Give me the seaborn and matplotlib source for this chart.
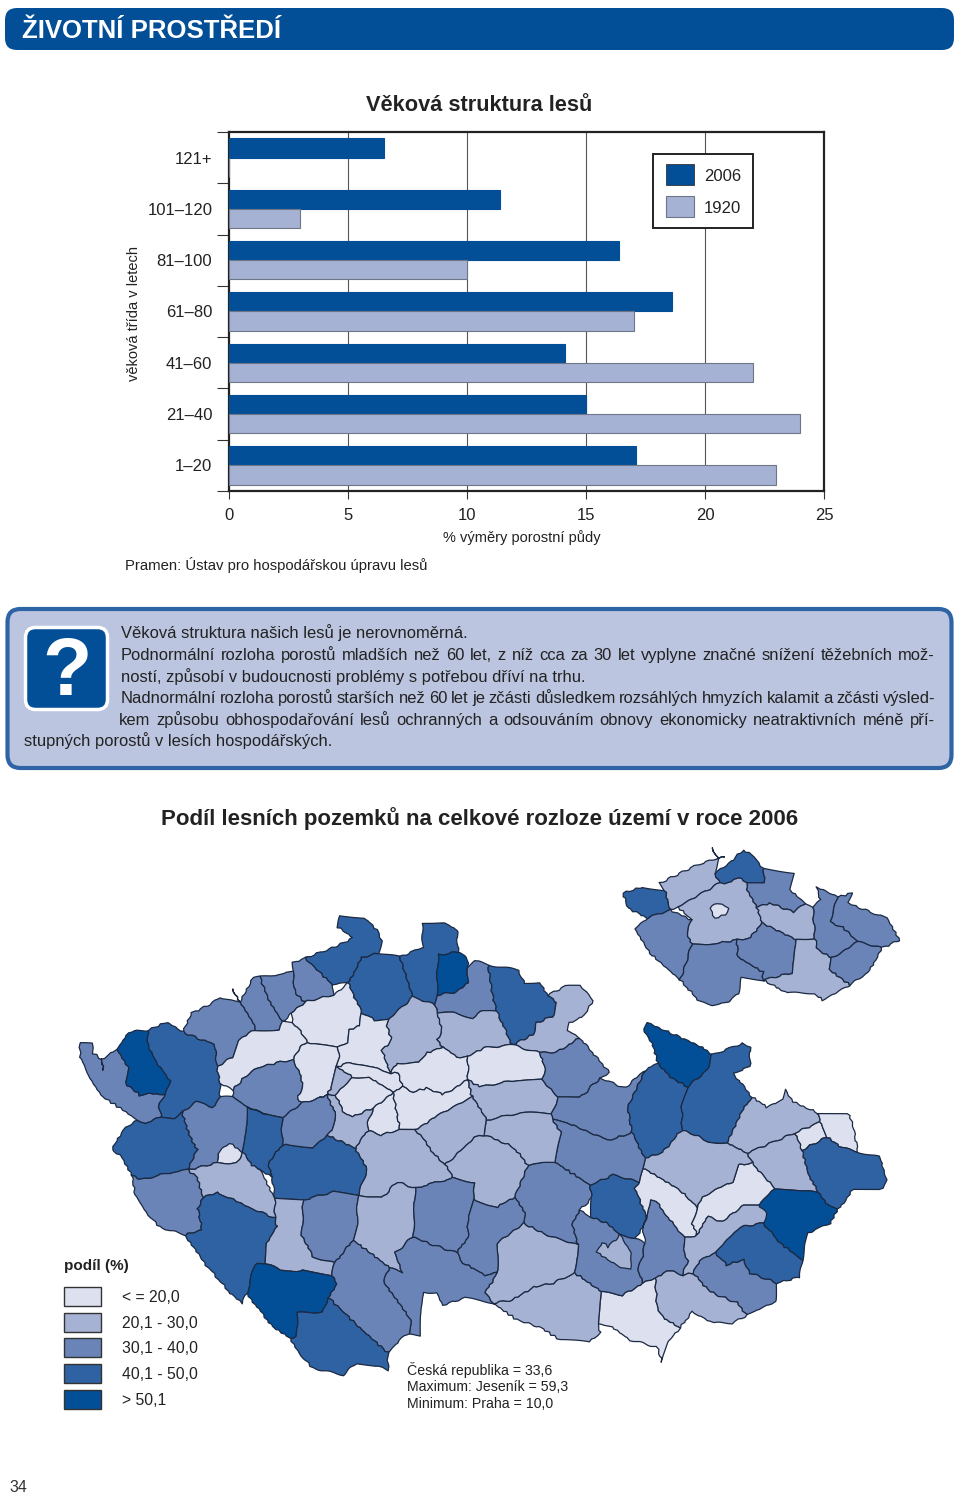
import matplotlib
matplotlib.use('Agg')
import matplotlib.pyplot as plt
import numpy as np
import pandas as pd
import seaborn as sns
from matplotlib.patches import FancyBboxPatch, Polygon, Rectangle

sns.set_style("white")
plt.rcParams['font.family'] = ['Liberation Sans', 'DejaVu Sans']

# ------------------ data: age structure ------------------
age_classes = ["121+", "101–120", "81–100", "61–80", "41–60", "21–40", "1–20"]
share_2006 = [6.5, 11.4, 16.4, 18.6, 14.1, 15.0, 17.1]
share_1920 = [0, 3.0, 10.0, 17.0, 22.0, 24.0, 23.0]
x_ticks = [0, 5, 10, 15, 20, 25]

BLUE = "#034f97"
LIGHT = "#a6b2d4"
class_colors = {1: "#dde1ef", 2: "#a6b2d4", 3: "#6a84b7", 4: "#2f62a3", 5: "#034f97"}
class_labels = ["< = 20,0", "20,1 - 30,0", "30,1 - 40,0", "40,1 - 50,0", "> 50,1"]

# ------------------ data: districts (class, outline in page pixels) ------------------
districts = [
    (3, [(80,1043),(92,1044),(93,1053),(102,1060),(103,1070),(110,1053),(117,1050),(128,1067),(125,1083),(140,1095),(157,1093),(166,1095),(158,1105),(162,1117),(145,1123),(137,1120),(123,1110),(103,1097),(90,1078),(80,1057)]),
    (5, [(116,1048),(128,1032),(148,1030),(148,1047),(158,1065),(170,1080),(166,1095),(140,1095),(125,1083),(128,1067)]),
    (4, [(148,1030),(167,1022),(183,1032),(207,1042),(215,1045),(217,1067),(220,1083),(220,1097),(213,1107),(197,1102),(182,1112),(175,1118),(162,1117),(158,1105),(166,1095),(170,1080),(158,1065),(148,1047)]),
    (3, [(183,1032),(192,1013),(213,1003),(220,997),(240,1003),(253,1022),(255,1030),(238,1040),(233,1057),(217,1067),(215,1045),(207,1042)]),
    (3, [(232,990),(242,997),(253,977),(260,977),(270,1003),(282,1022),(280,1030),(255,1030),(253,1022),(240,1003)]),
    (3, [(260,977),(293,972),(295,993),(305,1002),(292,1013),(282,1022),(270,1003)]),
    (3, [(293,963),(305,958),(333,985),(333,995),(305,1002),(295,993),(293,972)]),
    (4, [(305,958),(335,947),(353,938),(338,927),(340,915),(365,918),(377,930),(382,940),(378,953),(362,958),(348,983),(345,988),(333,985)]),
    (4, [(362,958),(378,953),(400,957),(413,997),(413,1000),(388,1020),(375,1020),(362,1013),(348,983)]),
    (4, [(400,957),(423,947),(422,923),(443,922),(457,930),(458,952),(438,955),(437,995),(435,1005),(413,997)]),
    (5, [(438,955),(458,952),(467,957),(468,982),(457,992),(437,995)]),
    (3, [(468,982),(468,967),(475,960),(488,965),(493,997),(497,1012),(482,1010),(472,1018),(453,1013),(437,1013),(435,1005),(437,995),(457,992)]),
    (4, [(485,965),(518,970),(525,983),(540,982),(548,995),(557,1003),(555,1015),(537,1023),(533,1035),(512,1045),(497,1012),(493,997),(488,965)]),
    (2, [(548,995),(568,985),(580,985),(593,1000),(585,1015),(570,1023),(567,1030),(580,1038),(557,1052),(540,1053),(512,1045),(533,1035),(537,1023),(555,1015),(557,1003)]),
    (2, [(437,1013),(453,1013),(472,1018),(482,1010),(497,1012),(512,1045),(483,1048),(468,1057),(457,1057),(443,1047),(437,1040),(442,1030)]),
    (2, [(388,1020),(413,1000),(435,1005),(437,1013),(442,1030),(437,1040),(443,1047),(427,1053),(418,1063),(398,1063),(390,1073),(382,1050),(392,1040),(387,1027)]),
    (1, [(292,1013),(305,1002),(333,995),(345,988),(362,1013),(360,1025),(350,1030),(348,1043),(337,1047),(317,1045),(308,1042),(300,1030),(292,1023)]),
    (1, [(362,1013),(375,1020),(388,1020),(387,1027),(392,1040),(382,1050),(385,1072),(370,1067),(350,1062),(337,1067),(340,1057),(337,1047),(348,1043),(350,1030),(360,1025)]),
    (1, [(217,1067),(233,1057),(238,1040),(255,1030),(280,1030),(292,1023),(300,1030),(308,1042),(300,1047),(293,1060),(280,1062),(260,1067),(245,1077),(233,1090),(220,1083)]),
    (3, [(245,1077),(260,1067),(280,1062),(293,1060),(300,1073),(303,1087),(297,1098),(302,1103),(282,1117),(268,1115),(233,1097),(233,1090)]),
    (1, [(293,1060),(308,1042),(337,1047),(340,1057),(337,1067),(332,1087),(320,1098),(297,1098),(303,1087),(300,1073)]),
    (2, [(332,1087),(337,1067),(343,1067),(353,1077),(353,1078),(335,1095),(320,1098)]),
    (1, [(337,1067),(350,1062),(370,1067),(385,1072),(398,1073),(403,1087),(393,1092),(400,1130),(380,1135),(368,1123),(373,1108),(388,1093),(370,1078),(353,1078),(343,1067)]),
    (1, [(335,1095),(353,1078),(370,1078),(388,1093),(373,1108),(352,1117),(343,1112),(340,1103)]),
    (1, [(390,1073),(398,1063),(418,1063),(427,1053),(443,1047),(457,1057),(468,1057),(468,1080),(443,1095),(427,1088),(413,1092),(403,1087),(398,1073)]),
    (1, [(393,1092),(403,1087),(413,1092),(427,1088),(443,1095),(468,1080),(472,1083),(472,1097),(468,1100),(435,1117),(415,1130),(400,1130)]),
    (1, [(468,1057),(483,1048),(512,1045),(540,1053),(545,1068),(542,1080),(517,1080),(480,1087),(472,1083),(468,1080)]),
    (2, [(472,1097),(472,1083),(480,1087),(517,1080),(542,1080),(558,1097),(552,1113),(520,1113),(487,1120),(468,1100)]),
    (3, [(540,1053),(557,1052),(580,1038),(610,1073),(600,1078),(580,1098),(558,1097),(542,1080),(545,1068)]),
    (3, [(558,1097),(580,1098),(600,1078),(625,1088),(645,1070),(628,1108),(632,1133),(610,1140),(595,1135),(568,1123),(552,1120),(552,1113)]),
    (4, [(645,1070),(658,1063),(663,1060),(670,1077),(688,1087),(682,1107),(682,1130),(662,1153),(645,1158),(632,1133),(628,1108)]),
    (5, [(643,1028),(648,1023),(702,1047),(712,1055),(710,1067),(688,1087),(670,1077),(663,1060),(652,1043)]),
    (4, [(712,1055),(743,1043),(750,1047),(750,1067),(733,1073),(752,1097),(743,1110),(727,1143),(707,1142),(700,1137),(682,1130),(682,1107),(688,1087),(710,1067)]),
    (2, [(752,1097),(767,1107),(782,1100),(785,1090),(793,1102),(818,1113),(820,1122),(795,1133),(747,1153),(727,1143),(743,1110)]),
    (1, [(795,1133),(820,1122),(827,1137),(828,1138),(802,1150)]),
    (1, [(820,1122),(823,1113),(848,1113),(853,1125),(858,1152),(842,1148),(827,1137)]),
    (4, [(802,1150),(828,1138),(842,1148),(858,1152),(880,1157),(887,1182),(880,1190),(853,1190),(838,1210),(830,1207),(818,1193),(808,1173)]),
    (2, [(747,1153),(795,1133),(802,1150),(808,1173),(818,1193),(800,1190),(775,1188),(773,1188),(767,1180),(752,1163)]),
    (5, [(758,1205),(775,1188),(800,1190),(818,1193),(835,1215),(830,1223),(808,1233),(802,1260),(780,1243),(763,1223)]),
    (4, [(715,1253),(725,1242),(740,1227),(763,1223),(780,1243),(802,1260),(800,1277),(777,1283),(750,1273),(743,1260),(727,1265)]),
    (3, [(693,1273),(700,1260),(715,1253),(727,1265),(743,1260),(750,1273),(777,1283),(775,1302),(757,1310),(747,1315),(737,1303),(710,1292)]),
    (2, [(655,1278),(670,1270),(682,1275),(693,1273),(710,1292),(737,1303),(747,1315),(733,1323),(713,1323),(692,1312),(680,1328),(662,1317),(657,1307)]),
    (1, [(602,1292),(623,1295),(643,1283),(655,1278),(657,1307),(662,1317),(680,1328),(667,1343),(662,1362),(657,1347),(630,1340),(612,1327),(598,1323)]),
    (2, [(493,1303),(513,1300),(533,1287),(553,1283),(575,1273),(602,1292),(598,1323),(600,1333),(590,1342),(560,1340),(540,1327),(517,1320),(490,1308)]),
    (2, [(498,1243),(523,1223),(547,1235),(578,1245),(575,1273),(553,1283),(533,1287),(513,1300),(493,1303),(485,1293),(497,1273)]),
    (3, [(518,1188),(528,1165),(555,1162),(590,1185),(592,1198),(580,1210),(572,1223),(578,1245),(547,1235),(523,1223),(525,1213),(515,1197)]),
    (4, [(590,1185),(613,1175),(640,1182),(635,1188),(643,1228),(635,1238),(620,1235),(607,1223),(590,1217),(592,1198)]),
    (3, [(580,1210),(590,1217),(607,1223),(620,1235),(635,1238),(645,1243),(643,1257),(638,1270),(643,1283),(623,1295),(602,1292),(575,1273),(578,1245),(572,1223)]),
    (3, [(650,1200),(657,1202),(670,1220),(685,1238),(683,1250),(688,1260),(682,1275),(670,1270),(655,1278),(643,1283),(638,1270),(643,1257),(645,1243),(643,1228),(647,1218)]),
    (2, [(597,1252),(602,1242),(608,1247),(618,1240),(627,1247),(632,1253),(630,1270),(620,1267),(605,1258)]),
    (1, [(635,1188),(640,1182),(643,1168),(660,1178),(680,1190),(697,1207),(692,1223),(697,1235),(685,1238),(670,1220),(657,1202),(650,1200),(647,1218),(643,1228)]),
    (1, [(692,1223),(697,1207),(702,1198),(720,1187),(733,1182),(738,1165),(752,1163),(767,1180),(775,1188),(758,1205),(743,1205),(723,1222),(708,1217),(697,1235)]),
    (2, [(685,1238),(697,1235),(708,1217),(723,1222),(743,1205),(767,1213),(763,1223),(740,1227),(725,1242),(715,1253),(700,1260),(693,1273),(682,1275),(688,1260),(683,1250)]),
    (2, [(645,1158),(662,1153),(682,1130),(707,1142),(727,1143),(747,1153),(752,1163),(738,1165),(733,1182),(720,1187),(702,1198),(697,1207),(680,1190),(660,1178),(643,1168)]),
    (3, [(552,1120),(568,1123),(595,1135),(610,1140),(632,1133),(645,1158),(643,1168),(640,1182),(613,1175),(590,1185),(555,1162),(562,1133)]),
    (2, [(487,1120),(520,1113),(552,1113),(552,1120),(562,1133),(555,1162),(533,1165),(513,1147),(485,1135)]),
    (2, [(445,1165),(475,1137),(485,1135),(513,1147),(533,1165),(528,1165),(518,1188),(515,1197),(497,1207),(480,1203),(473,1200),(475,1183),(453,1178)]),
    (2, [(415,1130),(435,1117),(468,1100),(487,1120),(485,1135),(475,1137),(445,1165),(435,1155),(420,1135)]),
    (2, [(355,1148),(368,1130),(380,1135),(400,1130),(415,1130),(420,1135),(435,1155),(445,1165),(453,1178),(415,1188),(412,1192),(397,1182),(382,1198),(358,1195),(367,1170)]),
    (4, [(268,1163),(290,1145),(313,1147),(327,1135),(355,1148),(367,1170),(358,1195),(333,1192),(303,1200),(275,1198),(272,1177)]),
    (2, [(327,1095),(343,1112),(352,1117),(373,1108),(368,1123),(368,1130),(355,1148),(327,1135),(333,1130),(335,1113)]),
    (3, [(282,1117),(302,1103),(320,1098),(327,1095),(335,1113),(333,1130),(327,1135),(313,1147),(290,1145),(282,1145)]),
    (4, [(247,1107),(268,1115),(282,1117),(282,1145),(268,1163),(267,1173),(252,1165),(243,1153),(245,1140)]),
    (3, [(182,1112),(197,1102),(213,1107),(220,1097),(233,1097),(268,1115),(247,1107),(245,1140),(243,1153),(240,1157),(218,1153),(217,1163),(188,1170),(197,1150),(188,1132)]),
    (1, [(218,1153),(230,1143),(243,1153),(237,1163),(217,1163)]),
    (4, [(112,1150),(123,1130),(145,1123),(162,1117),(175,1118),(182,1112),(188,1132),(197,1150),(188,1170),(173,1172),(140,1180),(132,1175),(122,1157)]),
    (3, [(132,1180),(140,1180),(173,1172),(188,1170),(197,1177),(203,1197),(198,1208),(202,1230),(185,1235),(160,1227),(150,1217),(135,1195)]),
    (2, [(188,1170),(217,1163),(237,1163),(240,1157),(260,1170),(275,1198),(275,1218),(250,1208),(230,1198),(217,1193),(203,1197),(197,1177)]),
    (4, [(203,1197),(217,1193),(230,1198),(250,1208),(275,1218),(277,1227),(267,1242),(265,1263),(255,1265),(247,1293),(242,1303),(230,1293),(202,1260),(185,1235),(202,1230),(198,1208)]),
    (2, [(275,1198),(303,1200),(303,1207),(302,1235),(313,1257),(335,1263),(332,1275),(303,1270),(287,1272),(265,1263),(267,1242),(277,1227),(275,1218)]),
    (3, [(303,1200),(333,1192),(358,1195),(357,1223),(353,1240),(335,1263),(313,1257),(302,1235),(303,1207)]),
    (2, [(358,1195),(382,1198),(397,1182),(412,1192),(415,1200),(413,1237),(395,1253),(402,1272),(390,1268),(353,1240),(357,1223)]),
    (3, [(415,1188),(453,1178),(475,1183),(473,1200),(468,1217),(468,1237),(457,1253),(433,1245),(413,1237),(415,1200)]),
    (3, [(473,1200),(480,1203),(497,1207),(515,1197),(525,1213),(523,1223),(498,1243),(497,1273),(485,1275),(463,1263),(457,1253),(468,1237),(468,1217)]),
    (3, [(413,1237),(433,1245),(457,1253),(463,1263),(485,1275),(497,1273),(485,1293),(493,1303),(465,1298),(443,1305),(437,1293),(423,1292),(420,1337),(410,1333),(412,1323),(383,1280),(395,1270),(402,1272),(395,1253)]),
    (3, [(328,1297),(337,1285),(332,1275),(335,1263),(353,1240),(390,1268),(395,1270),(383,1280),(412,1323),(410,1333),(400,1340),(388,1353),(362,1330)]),
    (5, [(247,1293),(255,1265),(265,1263),(287,1272),(303,1270),(332,1275),(337,1285),(328,1297),(323,1312),(297,1313),(297,1337),(290,1338),(273,1327),(257,1307)]),
    (4, [(297,1313),(323,1312),(328,1297),(362,1330),(388,1353),(388,1370),(373,1365),(357,1363),(343,1375),(313,1368),(303,1358),(290,1338),(297,1337)]),
]

inset_regions = [
    (4, [(623,893),(643,887),(665,890),(670,910),(647,918),(628,908)]),
    (2, [(660,883),(697,865),(718,858),(712,848),(725,857),(715,873),(720,883),(678,907),(670,905),(665,890)]),
    (4, [(715,873),(733,860),(743,850),(752,855),(763,868),(765,882),(747,882),(728,883),(720,883)]),
    (3, [(763,868),(795,873),(790,890),(805,903),(793,912),(770,903),(757,907),(747,890),(747,882),(765,882)]),
    (2, [(678,908),(720,885),(738,878),(747,890),(757,908),(762,923),(750,938),(720,943),(692,945),(687,933),(692,920)]),
    (1, [(710,908),(718,903),(728,908),(725,915),(715,918)]),
    (3, [(635,928),(647,918),(672,910),(692,920),(688,947),(688,957),(680,980),(652,955),(643,943)]),
    (3, [(690,945),(720,943),(737,940),(738,957),(763,972),(763,980),(742,978),(738,993),(728,1003),(713,1005),(700,1002),(680,978),(688,957)]),
    (3, [(737,942),(760,925),(797,940),(792,973),(763,980),(763,972),(738,957)]),
    (2, [(757,908),(770,903),(793,912),(813,907),(815,938),(797,940),(760,925),(762,918)]),
    (2, [(797,940),(815,938),(818,950),(832,958),(830,970),(850,985),(823,1000),(813,993),(787,993),(765,982),(792,973)]),
    (3, [(817,887),(838,897),(830,922),(843,927),(858,942),(832,957),(815,940),(812,913),(820,900)]),
    (3, [(838,897),(852,893),(848,903),(865,910),(887,918),(900,940),(882,948),(858,942),(843,927),(830,922)]),
    (3, [(832,958),(858,943),(882,948),(868,973),(853,985),(830,970)]),
]


def snap_outlines(outlines, radius=7.0, edge_radius=6.0):
    # my read-off corners do not meet exactly, so merge near ones and add them to nearby edges
    verts = np.array([p for o in outlines for p in o], dtype=float)
    centres = []
    labels = np.zeros(len(verts), dtype=int)
    for i, v in enumerate(verts):
        for j, c in enumerate(centres):
            if np.hypot(*(v - c)) < radius:
                labels[i] = j
                break
        else:
            centres.append(v.copy())
            labels[i] = len(centres) - 1
    centres = np.array(centres)
    result = []
    k = 0
    for o in outlines:
        ids = list(labels[k:k + len(o)])
        k += len(o)
        ids = [a for a, b in zip(ids, ids[1:] + ids[:1]) if a != b]
        ring = []
        for a, b in zip(ids, ids[1:] + ids[:1]):
            ring.append(a)
            pa, pb = centres[a], centres[b]
            d = pb - pa
            length2 = d @ d
            t = (centres - pa) @ d / length2
            dist = np.hypot(*(centres - (pa + np.outer(t, d))).T)
            near = [m for m in np.where((t > 0.03) & (t < 0.97) & (dist < edge_radius))[0]
                    if m not in (a, b)]
            ring.extend(sorted(near, key=lambda m: t[m]))
        result.append([tuple(centres[m]) for m in ring])
    return result


def rough_outline(points):
    # jagged border: shared edges get the same offset because it depends on position only
    pts = np.array(points + [points[0]], dtype=float)
    out = []
    for a, b in zip(pts[:-1], pts[1:]):
        n = max(int(np.hypot(*(b - a)) / 3.0), 1)
        for t in np.arange(n) / n:
            out.append(a + (b - a) * t)
    out = np.array(out)
    dx = 0.9 * np.sin(out[:, 0] * 1.7 + out[:, 1] * 2.3)
    dy = 0.9 * np.sin(out[:, 0] * 2.1 - out[:, 1] * 1.3)
    return np.column_stack([out[:, 0] + dx, out[:, 1] + dy])


fig = plt.figure(figsize=(9.6, 14.96), dpi=100, facecolor="white")

page = fig.add_axes([0, 0, 1, 1])
page.set_xlim(0, 960)
page.set_ylim(1496, 0)
page.axis("off")

# ------------------ header ------------------
page.add_patch(FancyBboxPatch((5, 8), 949, 42, boxstyle="round,pad=0,rounding_size=12",
                              fc=BLUE, ec=BLUE, lw=0))
page.text(22, 31, "ŽIVOTNÍ PROSTŘEDÍ", color="white", fontsize=18.5, fontweight="bold", va="center")
page.text(479.5, 105, "Věková struktura lesů", fontsize=15.7, fontweight="bold",
          ha="center", va="center", color="#222222")

# ------------------ bar chart ------------------
ax = fig.add_axes([229 / 960, 1 - 491 / 1496, 595 / 960, 359 / 1496])
df = pd.DataFrame({
    "age": age_classes * 2,
    "share": share_2006 + share_1920,
    "year": ["2006"] * 7 + ["1920"] * 7,
})
sns.barplot(data=df, y="age", x="share", hue="year", order=age_classes, hue_order=["2006", "1920"],
            palette={"2006": BLUE, "1920": LIGHT}, width=0.75, saturation=1, dodge=True,
            legend=False, ax=ax, zorder=3)
for bar, edge in zip(ax.patches, [BLUE] * 7 + ["#6f7687"] * 7):
    bar.set_edgecolor(edge)
    bar.set_linewidth(0.8)
ax.set_xlim(0, 25)
ax.set_ylim(6.5, -0.5)
ax.set_xticks(x_ticks)
ax.grid(False)
for v in x_ticks[1:-1]:
    ax.axvline(v, color="#555555", lw=0.8, zorder=1)
ax.set_xlabel("")
ax.set_ylabel("")
ax.set_yticks(np.arange(-0.5, 7, 1))
ax.set_yticklabels([])
ax.tick_params(axis="y", length=9, width=0.8, color="#333333", left=True)
ax.tick_params(axis="x", length=6, width=0.8, color="#333333", bottom=True, labelsize=12,
               labelcolor="#222222", pad=6)
for side in ax.spines.values():
    side.set_visible(True)
    side.set_color("#222222")
    side.set_linewidth(1.6)
for i, name in enumerate(age_classes):
    ax.annotate(name, xy=(0, i), xycoords=("axes fraction", "data"), xytext=(-12, -1),
                textcoords="offset points", ha="right", va="center", fontsize=12, color="#222222")

page.text(134, 313, "věková třída v letech", rotation=90, fontsize=10.5, ha="center", va="center",
          color="#222222")
page.text(522, 538, "% výměry porostní půdy", fontsize=10.5, ha="center", va="center", color="#222222")
page.text(125, 565, "Pramen: Ústav pro hospodářskou úpravu lesů", fontsize=10.7, va="center",
          color="#222222")

# legend box
legend_ax = fig.add_axes([0, 0, 1, 1], facecolor="none")
legend_ax.set_xlim(0, 960)
legend_ax.set_ylim(1496, 0)
legend_ax.axis("off")
legend_ax.add_patch(Rectangle((652.5, 154), 100, 74, fc="white", ec="#222222", lw=1.4))
legend_ax.add_patch(Rectangle((666, 164), 28, 21, fc=BLUE, ec="#333333", lw=0.6))
legend_ax.add_patch(Rectangle((666, 196), 28, 21, fc=LIGHT, ec="#6f7687", lw=0.8))
legend_ax.text(704, 176, "2006", fontsize=12, va="center", color="#222222")
legend_ax.text(704, 208, "1920", fontsize=12, va="center", color="#222222")

# ------------------ text box ------------------
page.add_patch(FancyBboxPatch((7.5, 609), 944, 159, boxstyle="round,pad=0,rounding_size=13",
                              fc="#bcc5e0", ec="#2e64a6", lw=3))
page.add_patch(FancyBboxPatch((25.5, 627.5), 82, 82, boxstyle="round,pad=0,rounding_size=10",
                              fc=BLUE, ec="white", lw=2.5))
page.text(67, 674, "?", color="white", fontsize=58, fontweight="bold", ha="center", va="center")

text_lines = [
    (121, 633, "Věková struktura našich lesů je nerovnoměrná.", False),
    (121, 655, "Podnormální rozloha porostů mladších než 60 let, z níž cca za 30 let vyplyne značné snížení těžebních mož-", True),
    (121, 677, "ností, způsobí v budoucnosti problémy s potřebou dříví na trhu.", False),
    (121, 698, "Nadnormální rozloha porostů starších než 60 let je zčásti důsledkem rozsáhlých hmyzích kalamit a zčásti výsled-", True),
    (119, 720, "kem způsobu obhospodařování lesů ochranných a odsouváním obnovy ekonomicky neatraktivních méně pří-", True),
    (24, 741, "stupných porostů v lesích hospodářských.", False),
]
RIGHT_EDGE = 935
renderer = fig.canvas.get_renderer()
for left, y, line, justify in text_lines:
    if not justify:
        page.text(left, y, line, fontsize=11.9, va="center", color="#222222")
        continue
    words = line.split(" ")
    items = [page.text(0, y, w, fontsize=11.9, va="center", color="#222222") for w in words]
    widths = [t.get_window_extent(renderer).width for t in items]
    gap = (RIGHT_EDGE - left - sum(widths)) / (len(words) - 1)
    x = left
    for t, w in zip(items, widths):
        t.set_x(x)
        x += w + gap

# ------------------ map ------------------
page.text(480, 819, "Podíl lesních pozemků na celkové rozloze území v roce 2006", fontsize=16,
          fontweight="bold", ha="center", va="center", color="#222222")

for group in (districts, inset_regions):
    snapped = snap_outlines([o for _, o in group])
    for (cls, _), outline in zip(group, snapped):
        page.add_patch(Polygon(rough_outline(outline), closed=True, fc=class_colors[cls],
                               ec="#1b2942", lw=0.9, joinstyle="round"))

page.text(64, 1266, "podíl (%)", fontsize=11, fontweight="bold", va="center", color="#222222")
for i, label in enumerate(class_labels):
    top = 1287 + i * 25.7
    page.add_patch(Rectangle((64, top), 37, 19, fc=class_colors[i + 1], ec="#333333", lw=1))
    page.text(122, top + 10.5, label, fontsize=11.3, va="center", color="#222222")

page.text(407, 1370, "Česká republika = 33,6", fontsize=10.2, va="center", color="#222222")
page.text(407, 1387, "Maximum: Jeseník = 59,3", fontsize=10.2, va="center", color="#222222")
page.text(407, 1404, "Minimum: Praha = 10,0", fontsize=10.2, va="center", color="#222222")
page.text(9, 1487, "34", fontsize=11.5, va="center", color="#333333")

fig.savefig("out.png", dpi=100)
